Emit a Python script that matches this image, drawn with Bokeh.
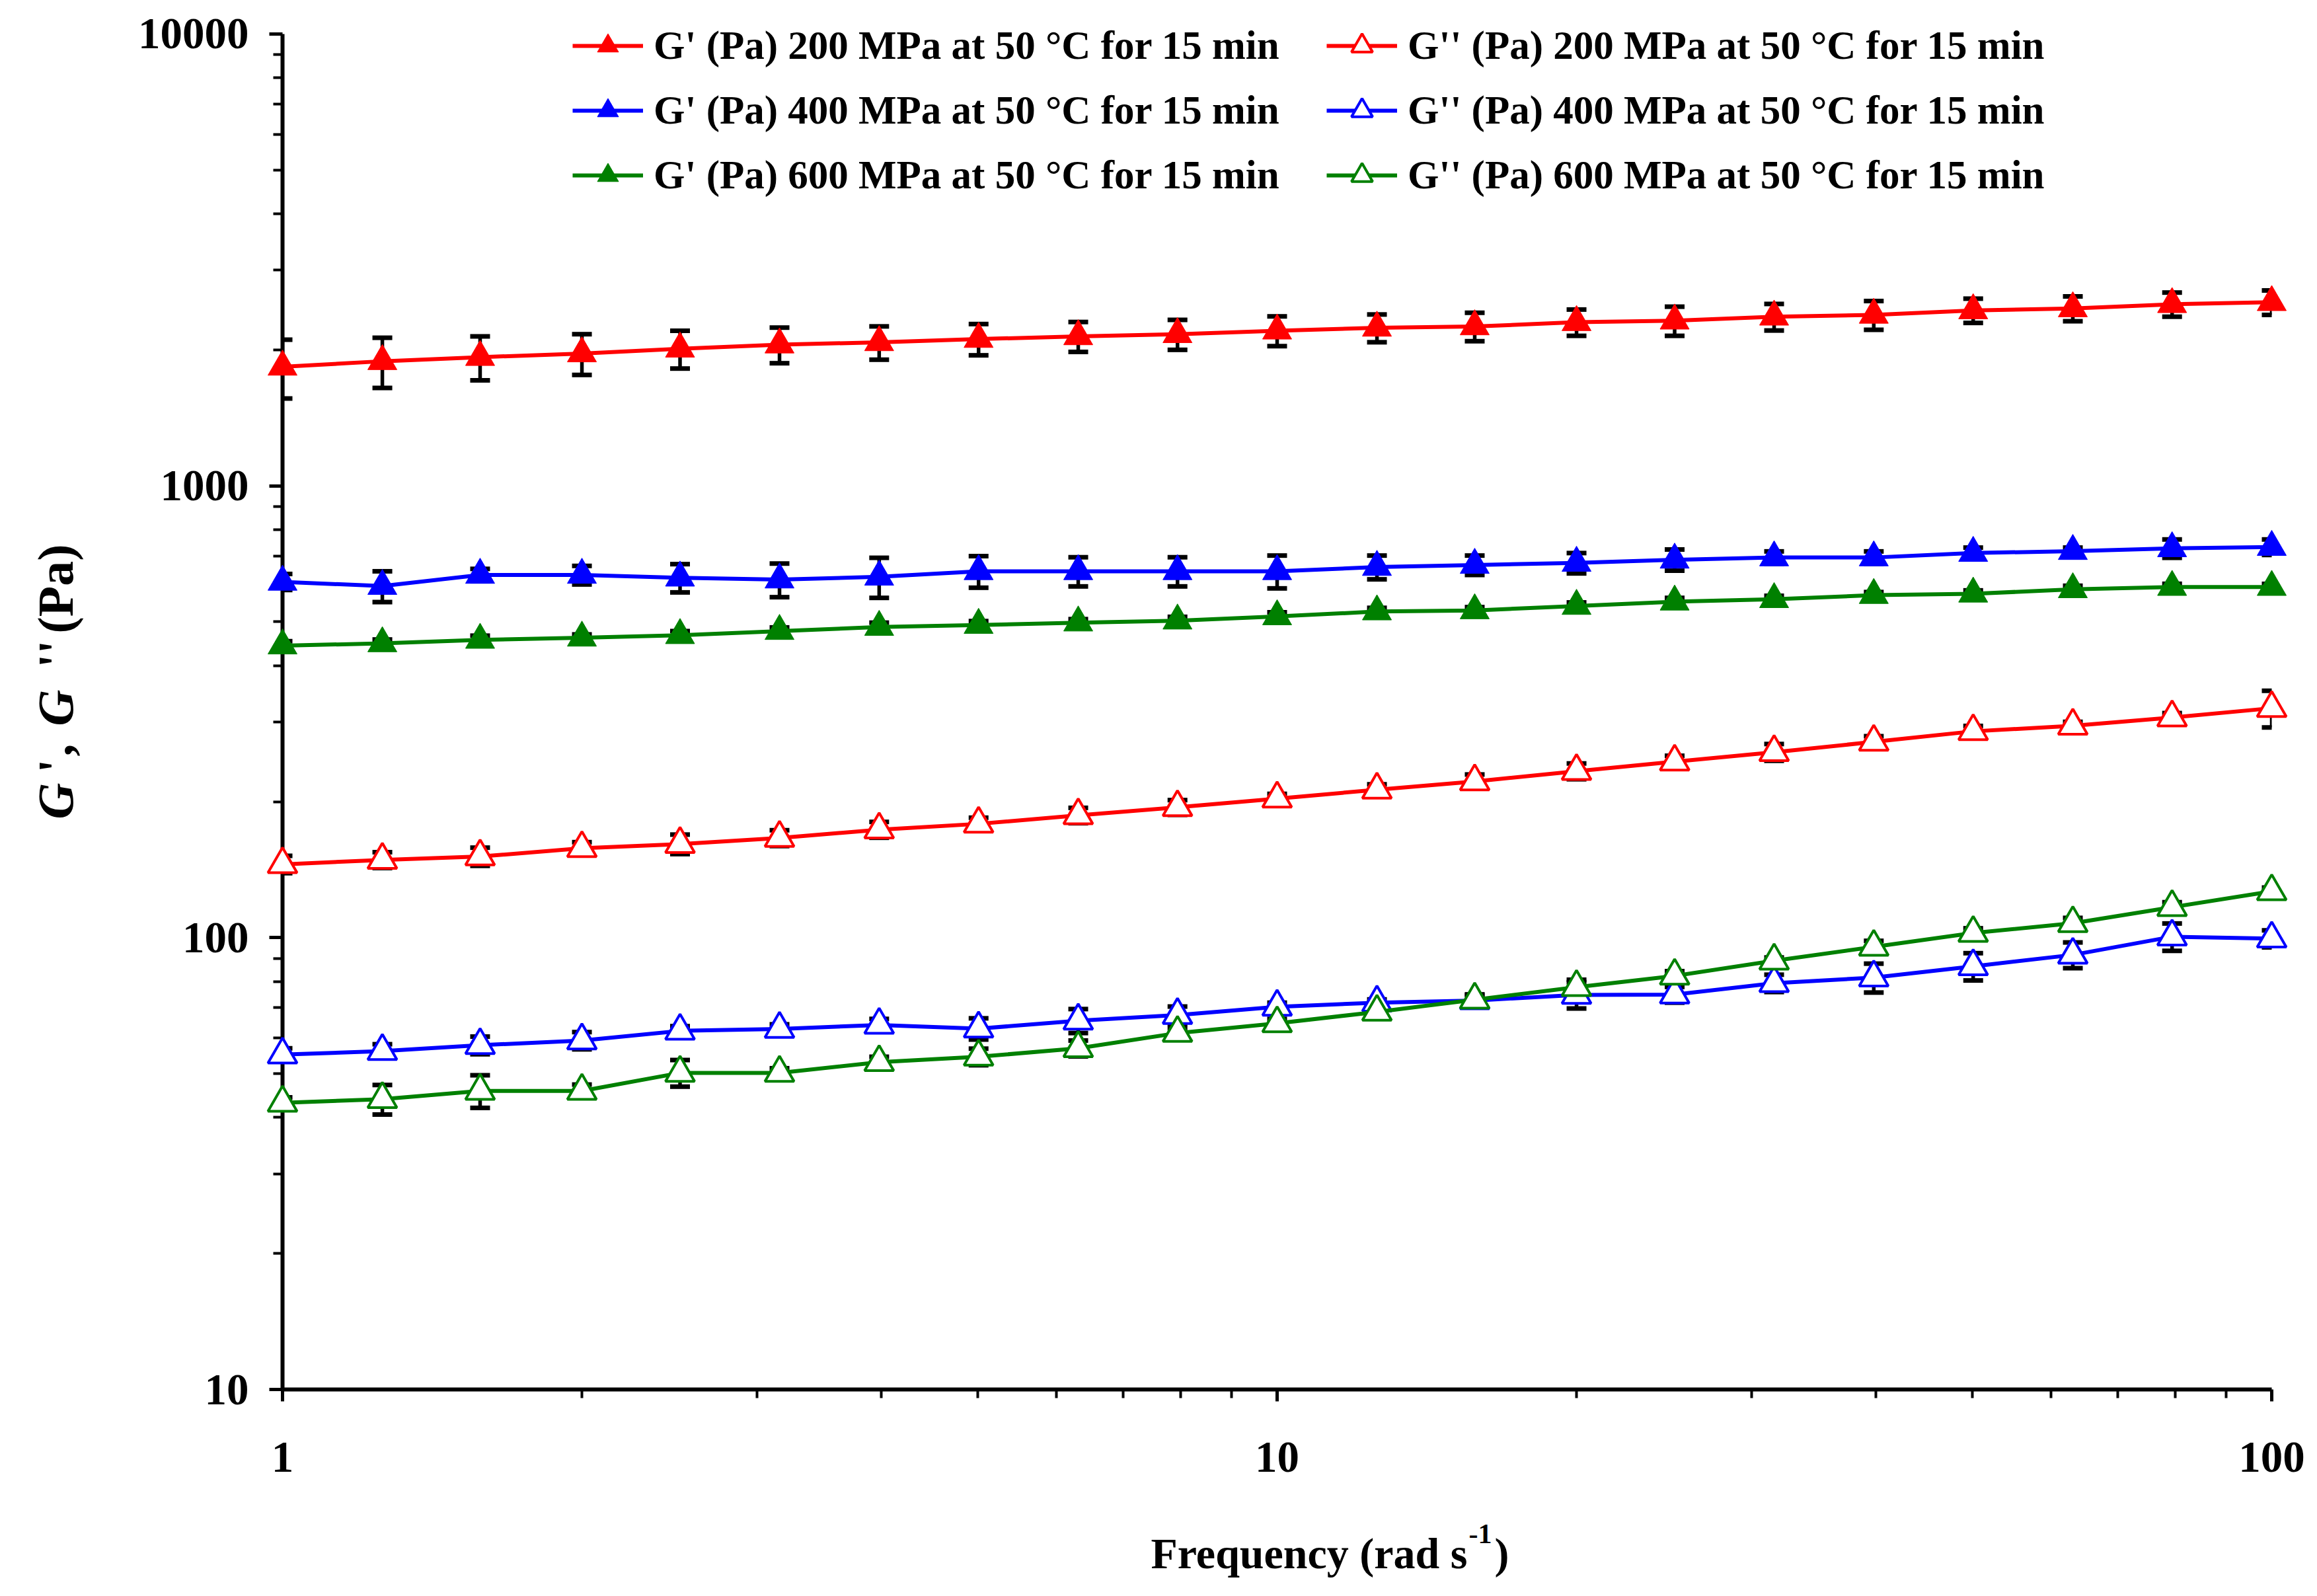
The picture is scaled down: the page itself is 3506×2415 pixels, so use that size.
import math

from bokeh.core.properties import value
from bokeh.embed import file_html
from bokeh.models import (ColumnDataSource, FixedTicker, Legend, LegendItem,
                          NumeralTickFormatter, Range1d, TeeHead, Whisker)
from bokeh.plotting import figure
from bokeh.resources import INLINE

# Data - frequency sweep
freq = [1.0, 1.26, 1.58, 2.0, 2.51, 3.16, 3.98, 5.01, 6.31, 7.94, 10.0,
        12.6, 15.8, 20.0, 25.1, 31.6, 39.8, 50.1, 63.1, 79.4, 100.0]

g1_200 = [1834, 1887, 1927, 1963, 2011, 2054, 2078, 2113, 2142, 2165, 2205,
          2237, 2253, 2302, 2320, 2367, 2390, 2445, 2470, 2523, 2549]
g1_200_err = [273, 240, 215, 203, 193, 186, 176, 168, 163, 165, 167,
              158, 163, 154, 172, 160, 175, 151, 156, 155, 159]

g2_200 = [145.3, 148.6, 151.2, 157.7, 161.1, 166.2, 173.4, 178.6, 186.5, 194.3, 203.1,
          212.5, 221.7, 233.6, 245.2, 257.3, 271.2, 286.2, 294.4, 307.1, 322.0]
g2_200_err = [6.4, 6.0, 7.0, 5.0, 8.0, 6.7, 7.0, 5.7, 7.3, 7.3, 5.0,
              6.0, 8.0, 9.4, 7.5, 11.0, 8.0, 8.0, 6.0, 7.0, 30.0]

g1_400 = [613, 600, 635, 635, 626, 620, 629, 647, 647, 647, 647,
          661, 668, 675, 686, 694, 694, 710, 717, 727, 732]
g1_400_err = [25, 47, 20, 30, 45, 53, 64, 52, 48, 48, 54,
              40, 33, 35, 37, 22, 22, 20, 13, 34, 29]

g2_400 = [55.1, 56.1, 57.8, 59.2, 62.2, 62.8, 64.1, 62.9, 65.5, 67.4, 70.3,
          71.8, 72.6, 74.7, 74.8, 79.3, 81.6, 86.4, 91.6, 100.5, 99.5]
g2_400_err = [1.8, 2.0, 2.6, 2.6, 1.5, 1.5, 2.0, 3.4, 4.0, 3.0, 1.5,
              1.2, 2.0, 5.0, 3.0, 3.5, 6.0, 6.0, 6.0, 7.0, 4.3]

g1_600 = [443, 448, 456, 461, 467, 477, 487, 492, 498, 503, 514,
          527, 530, 542, 554, 561, 573, 577, 590, 597, 597]
g1_600_err = [10, 9, 10, 8, 10, 9, 11, 10, 9, 10, 11,
              10, 9, 10, 11, 10, 9, 10, 11, 10, 10]

g2_600 = [43.1, 43.9, 45.8, 45.8, 50.2, 50.2, 53.0, 54.5, 56.9, 61.5, 64.6,
          68.5, 72.9, 77.7, 82.3, 88.9, 95.4, 102.4, 107.6, 116.8, 126.6]
g2_600_err = [1.2, 3.3, 3.8, 1.5, 3.4, 1.2, 1.5, 2.3, 2.3, 1.5, 1.5,
              2.0, 2.0, 3.0, 2.0, 1.5, 3.0, 2.5, 3.0, 3.0, 2.5]

labels = {
    "g1_200": "G' (Pa) 200 MPa at 50 °C for 15 min",
    "g2_200": "G'' (Pa) 200 MPa at 50 °C for 15 min",
    "g1_400": "G' (Pa) 400 MPa at 50 °C for 15 min",
    "g2_400": "G'' (Pa) 400 MPa at 50 °C for 15 min",
    "g1_600": "G' (Pa) 600 MPa at 50 °C for 15 min",
    "g2_600": "G'' (Pa) 600 MPa at 50 °C for 15 min",
}

FONT = "Liberation Serif"

# Frame reaches a little above 10000 so the legend's first row is not clipped;
# the y axis itself stops at 10000 (bounds below)
DECADE_PX = 683.7
TOP_PAD_PX = 34
y_top = 10 ** (4 + TOP_PAD_PX / DECADE_PX)

p = figure(
    width=3490,
    height=2399,
    x_axis_type="log",
    y_axis_type="log",
    x_range=Range1d(1, 100),
    y_range=Range1d(10, y_top),
    output_backend="svg",
    toolbar_location=None,
    min_border_left=427,
    min_border_right=53,
    min_border_top=51 - TOP_PAD_PX,
    min_border_bottom=297,
)
p.outline_line_color = None
p.xgrid.visible = False
p.ygrid.visible = False
p.background_fill_color = "white"

# Axes
p.xaxis.ticker = FixedTicker(ticks=[1, 10, 100],
                             minor_ticks=[k * 10 ** d for d in (0, 1) for k in range(2, 10)])
p.yaxis.ticker = FixedTicker(ticks=[10, 100, 1000, 10000],
                             minor_ticks=[k * 10 ** d for d in (1, 2, 3) for k in range(2, 10)])
p.yaxis.bounds = (10, 10000)
for ax in (p.xaxis[0], p.yaxis[0]):
    ax.formatter = NumeralTickFormatter(format="0")
    ax.axis_line_width = 6
    ax.axis_line_color = "black"
    ax.major_tick_line_width = 5
    ax.minor_tick_line_width = 4
    ax.major_tick_in = 0
    ax.minor_tick_in = 0
    ax.major_label_text_font = FONT
    ax.major_label_text_font_style = "bold"
    ax.major_label_text_font_size = "67px"
    ax.major_label_text_color = "black"
p.xaxis.major_tick_out = 18
p.xaxis.minor_tick_out = 13
p.xaxis.major_label_standoff = 62
p.yaxis.major_tick_out = 20
p.yaxis.minor_tick_out = 14
p.yaxis.major_label_standoff = 31

# Series in plotting order
series = [
    ("g1_200", g1_200, g1_200_err, "#FF0000", True),
    ("g2_200", g2_200, g2_200_err, "#FF0000", False),
    ("g1_400", g1_400, g1_400_err, "#0000FF", True),
    ("g2_400", g2_400, g2_400_err, "#0000FF", False),
    ("g1_600", g1_600, g1_600_err, "#008000", True),
    ("g2_600", g2_600, g2_600_err, "#008000", False),
]

items = {}
for key, vals, errs, color, filled in series:
    src = ColumnDataSource(data={
        "x": freq,
        "y": vals,
        "upper": [v + e for v, e in zip(vals, errs)],
        "lower": [v - e for v, e in zip(vals, errs)],
    })
    p.add_layout(Whisker(
        source=src, base="x", upper="upper", lower="lower", dimension="height",
        line_color="black", line_width=5.5,
        upper_head=TeeHead(size=30, line_width=7, line_color="black"),
        lower_head=TeeHead(size=30, line_width=7, line_color="black"),
    ))
    ln = p.line("x", "y", source=src, line_color=color, line_width=6, level="overlay")
    mk = p.scatter("x", "y", source=src, marker="triangle", size=44,
                   fill_color=color if filled else "white", line_color=color,
                   line_width=1 if filled else 4, level="overlay")
    items[key] = LegendItem(label=labels[key], renderers=[ln, mk])

# Legends - two columns of three rows each
for keys, vx in ((["g1_200", "g1_400", "g1_600"], 439), (["g2_200", "g2_400", "g2_600"], 1580)):
    leg = Legend(
        items=[items[k] for k in keys],
        location=(vx, 1797),
        orientation="vertical",
        glyph_width=107,
        glyph_height=80,
        label_height=70,
        label_standoff=16,
        spacing=18,
        padding=0,
        margin=0,
        border_line_color=None,
        background_fill_alpha=0,
        label_text_font=FONT,
        label_text_font_style="bold",
        label_text_font_size="61px",
        label_text_color="black",
    )
    p.add_layout(leg)


def add_text(text, dx, dy, size, style="bold", angle=0.0, align="left", baseline="alphabetic"):
    # text anchored at the axes corner (1, 10), shifted by dx, dy pixels
    p.text(
        x=[1], y=[10], text=[text], x_offset=dx, y_offset=dy, angle=angle,
        text_font=value(FONT), text_font_style=value(style), text_font_size=value(f"{size}px"),
        text_align=value(align), text_baseline=value(baseline), text_color="black",
        level="overlay",
    )


# Axis titles
add_text("Frequency (rad s", 1793, 248, 66, align="right")
add_text("-1", 1795, 218, 42)
add_text(")", 1834, 248, 66)

ylab_dx = -344
half_pi = math.pi / 2
add_text("G", ylab_dx, -863, 76, style="bold italic", angle=half_pi, baseline="middle")
add_text("'", ylab_dx, -933, 76, angle=half_pi, baseline="middle")
add_text(",", ylab_dx, -958, 76, angle=half_pi, baseline="middle")
add_text("G", ylab_dx, -1004, 76, style="bold italic", angle=half_pi, baseline="middle")
add_text("''", ylab_dx, -1092, 76, angle=half_pi, baseline="middle")
add_text("(Pa)", ylab_dx, -1144, 76, angle=half_pi, baseline="middle")

open("out.html", "w").write(file_html(p, INLINE))
